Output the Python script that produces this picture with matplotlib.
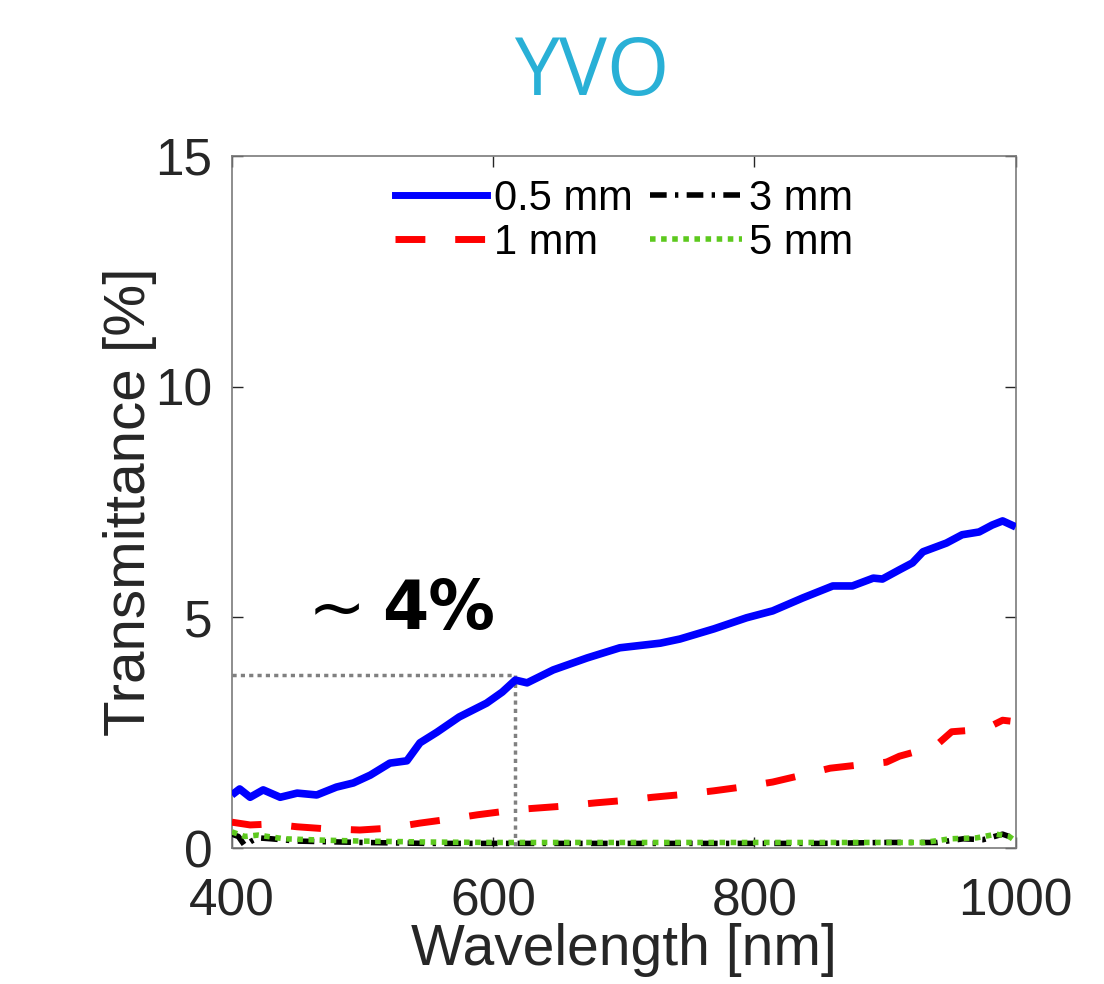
import numpy as np
import matplotlib
matplotlib.use("Agg")
import matplotlib.pyplot as plt
from matplotlib.lines import Line2D

# ── data ──────────────────────────────────────────────────────────────────────
wl_05 = [400, 406, 414, 424, 437, 450, 465, 480, 493, 506, 521, 534, 544, 557,
         574, 595, 607, 617, 626, 646, 672, 697, 728, 743, 769, 794, 814, 837,
         860, 875, 891, 898, 911, 921, 929, 947, 959, 972, 982, 990, 1000]
t_05 = [1.15, 1.28, 1.10, 1.26, 1.10, 1.19, 1.15, 1.32, 1.41, 1.58, 1.84, 1.89,
        2.28, 2.51, 2.84, 3.14, 3.38, 3.64, 3.58, 3.86, 4.12, 4.34, 4.44, 4.53,
        4.75, 4.99, 5.14, 5.42, 5.68, 5.68, 5.85, 5.83, 6.03, 6.18, 6.42, 6.61,
        6.79, 6.85, 7.00, 7.09, 6.96]

wl_1 = [400, 414, 430, 450, 470, 498, 520, 544, 565, 588, 610, 626, 650, 679,
        700, 722, 745, 769, 790, 814, 835, 858, 880, 901, 911, 925, 941, 951,
        965, 978, 990, 996]
t_1 = [0.56, 0.50, 0.52, 0.46, 0.42, 0.39, 0.43, 0.54, 0.62, 0.72, 0.80, 0.85,
       0.90, 0.98, 1.03, 1.10, 1.16, 1.24, 1.32, 1.43, 1.57, 1.73, 1.80, 1.86,
       1.99, 2.10, 2.27, 2.52, 2.55, 2.60, 2.77, 2.75]

wl_3 = [400, 405, 410, 415, 420, 430, 450, 500, 550, 600, 650, 700, 750, 800,
        850, 900, 940, 960, 975, 990, 1000]
t_3 = [0.30, 0.25, 0.05, 0.15, 0.22, 0.20, 0.15, 0.12, 0.10, 0.10, 0.10, 0.10,
       0.10, 0.10, 0.10, 0.12, 0.12, 0.20, 0.18, 0.30, 0.20]

wl_5 = [400, 410, 420, 440, 470, 500, 550, 600, 650, 700, 750, 800, 850, 900,
        930, 950, 970, 985, 995, 1000]
t_5 = [0.35, 0.25, 0.28, 0.20, 0.17, 0.15, 0.13, 0.12, 0.12, 0.12, 0.12, 0.12,
       0.12, 0.12, 0.12, 0.20, 0.22, 0.30, 0.25, 0.15]

labels = ["0.5 mm", "1 mm", "3 mm", "5 mm"]
marker_wl = 617
marker_t = 3.75

# ── figure ────────────────────────────────────────────────────────────────────
plt.rcParams["font.family"] = ["Liberation Sans", "DejaVu Sans"]
FG = "#262626"

fig = plt.figure(figsize=(11.04, 9.84), dpi=100)
ax = fig.add_axes([0.210, 0.1382, 0.710, 0.7033])

ax.plot(wl_05, t_05, color="#0000FF", lw=5.5, solid_capstyle="butt", zorder=5)
ax.plot(wl_1, t_1, color="#FF0000", lw=5, dashes=(4.3, 4.3), zorder=4)
ax.plot(wl_3, t_3, color="black", lw=4, dashes=(3, 1.5, 0.6, 1.5), zorder=3)
ax.plot(wl_5, t_5, color="#5DC91E", lw=4, dashes=(1, 1), zorder=4)

# guide lines for the ~4% mark
ax.plot([400, marker_wl], [marker_t, marker_t], color="#808080", lw=2.5,
        dashes=(1.2, 1.2), zorder=2)
ax.plot([marker_wl, marker_wl], [marker_t, 0], color="#808080", lw=2.5,
        dashes=(1.2, 1.2), zorder=2)

ax.text(480, 5.12, "~", fontsize=50, color="black", ha="center", va="center",
        family="DejaVu Sans")
ax.text(515, 5.16, "4%", fontsize=48, fontweight="bold", color="black",
        ha="left", va="center", family="DejaVu Sans")

ax.set_xlim(400, 1000)
ax.set_ylim(0, 15)
ax.set_xticks([400, 600, 800, 1000])
ax.set_yticks([0, 5, 10, 15])
ax.tick_params(direction="in", length=8, width=1, colors=FG, labelsize=37,
               top=True, right=True)
ax.tick_params(axis="x", pad=21)
ax.tick_params(axis="y", pad=14)
for sp in ax.spines.values():
    sp.set_color("#7a7a7a")
    sp.set_linewidth(1.2)

ax.set_xlabel("Wavelength [nm]", fontsize=41, color=FG)
ax.set_ylabel("Transmittance [%]", fontsize=42, color=FG)
ax.xaxis.set_label_coords(0.5, -0.108)
ax.yaxis.set_label_coords(-0.095, 0.5)

handles = [
    Line2D([0], [0], color="#0000FF", lw=5),
    Line2D([0], [0], color="#FF0000", lw=5, dashes=(4.3, 4.3)),
    Line2D([0], [0], color="black", lw=4, dashes=(3, 1.5, 0.6, 1.5)),
    Line2D([0], [0], color="#5DC91E", lw=4, dashes=(1, 1)),
]
ax.legend(handles, labels, ncol=2, loc="upper left", bbox_to_anchor=(0.208, 0.967),
          frameon=False, fontsize=30, handlelength=2.2, handletextpad=0.17,
          columnspacing=0.43, labelspacing=0.1, borderpad=0, borderaxespad=0)

fig.text(0.536, 0.925, "YVO", fontsize=58, color="#29B0D6", ha="center",
         va="center", family=["Open Sans", "DejaVu Sans"])

fig.savefig("out.png", dpi=100)
